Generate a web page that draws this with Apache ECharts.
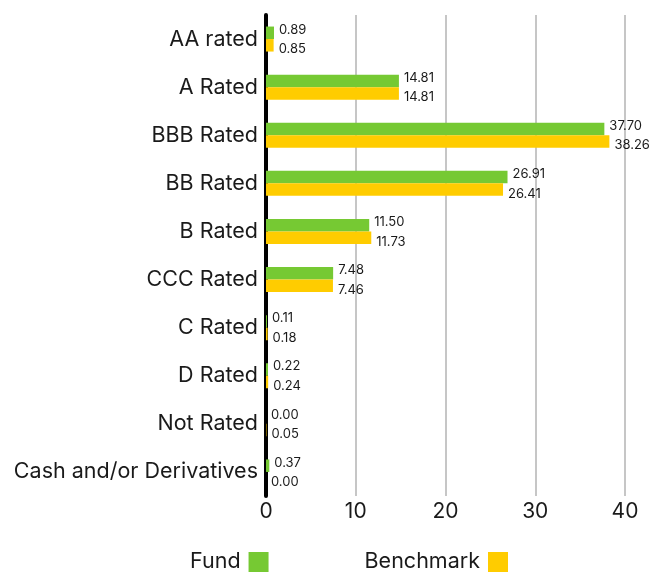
<!DOCTYPE html>
<html><head><meta charset="utf-8">
<script src="https://cdn.jsdelivr.net/npm/echarts@6/dist/echarts.min.js"></script>
<style>html,body{margin:0;padding:0;background:#fff}#c{width:669px;height:576px}</style>
</head><body><div id="c"></div>
<script>
const categories = ["AA rated","A Rated","BBB Rated","BB Rated","B Rated","CCC Rated","C Rated","D Rated","Not Rated","Cash and/or Derivatives"];
const fund = [0.89,14.81,37.70,26.91,11.50,7.48,0.11,0.22,0.00,0.37];
const benchmark = [0.85,14.81,38.26,26.41,11.73,7.46,0.18,0.24,0.05,0.00];
const xTicks = [0,10,20,30,40];
const FONT = "Inter";
const chart = echarts.init(document.getElementById('c'));
chart.setOption({
  animation:false,
  textStyle:{fontFamily:FONT},
  grid:{left:266,right:44,top:15,height:481,containLabel:false},
  legend:{
    bottom:3,left:190,padding:0,align:'right',itemWidth:20,itemHeight:20,itemGap:96,
    icon:'rect',
    textStyle:{fontSize:21.5,color:'#1a1a1a',fontFamily:FONT,padding:[0,3,0,0]},
    data:['Fund','Benchmark']
  },
  xAxis:{type:'value',min:xTicks[0],max:xTicks[xTicks.length-1],interval:10,
    axisLine:{show:false},axisTick:{show:false},
    axisLabel:{fontSize:21,color:'#1a1a1a',margin:5,fontFamily:FONT},
    splitLine:{show:true,lineStyle:{color:'#c6c6c6',width:2}}
  },
  yAxis:{type:'category',data:categories,inverse:true,
    axisLine:{show:true,lineStyle:{color:'#000',width:4}},
    axisTick:{show:false},
    axisLabel:{fontSize:21.5,color:'#1a1a1a',margin:8,fontFamily:FONT}
  },
  series:[
    {name:'Fund',type:'bar',data:fund,barWidth:12.5,barGap:'0%',
     itemStyle:{color:'#76c933'},
     label:{show:true,position:'right',distance:5,offset:[0,-3],fontSize:13,color:'#1a1a1a',fontFamily:FONT,
       formatter:p=>p.value.toFixed(2)}},
    {name:'Benchmark',type:'bar',data:benchmark,barWidth:12.5,barGap:'0%',
     itemStyle:{color:'#ffcc00'},
     label:{show:true,position:'right',distance:5,offset:[0,4],fontSize:13,color:'#1a1a1a',fontFamily:FONT,
       formatter:p=>p.value.toFixed(2)}}
  ]
});
</script></body></html>
